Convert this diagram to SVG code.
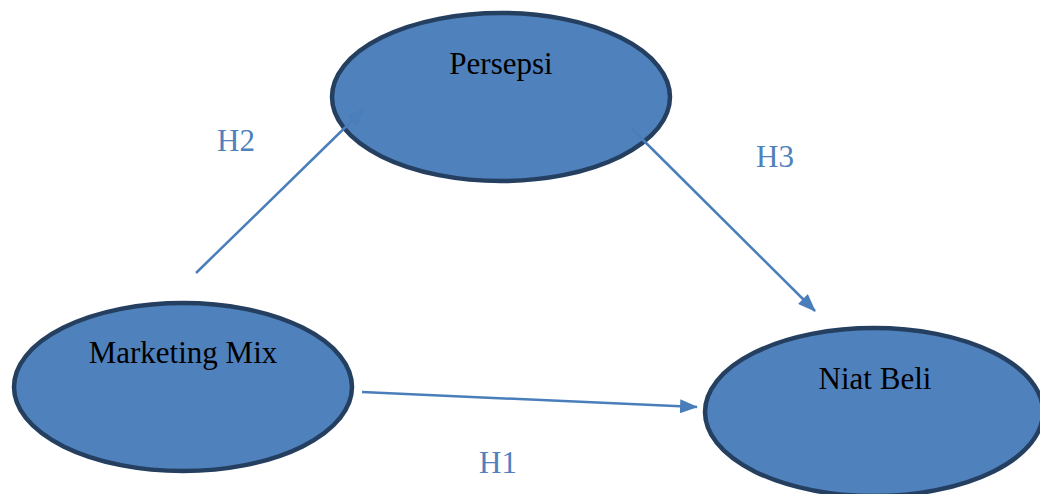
<svg xmlns="http://www.w3.org/2000/svg" width="1040" height="494" viewBox="0 0 1040 494">
<style>
.node{fill:#4f81bd;stroke:#243f60;stroke-width:4.5}
.lbl{font-family:"Liberation Serif","DejaVu Serif",serif;font-size:31px;fill:#000;text-anchor:middle}
.h{font-family:"Liberation Serif","DejaVu Serif",serif;font-size:31px;fill:#4f81bd;text-anchor:middle}
.conn{stroke:#4a7ebb;stroke-width:2.5;fill:none;marker-end:url(#ah)}
</style>
<defs>
<marker id="ah" markerUnits="userSpaceOnUse" markerWidth="18" markerHeight="14" refX="17" refY="7" orient="auto">
<path d="M0,0 L18,7 L0,14 Z" fill="#4a7ebb"/>
</marker>
</defs>
<rect width="1040" height="494" fill="#fff"/>
<g id="persepsi">
<ellipse class="node" cx="501" cy="97" rx="169" ry="84"/>
<text class="lbl" x="501" y="74">Persepsi</text>
</g>
<g id="marketing-mix">
<ellipse class="node" cx="183" cy="387" rx="169" ry="84"/>
<text class="lbl" x="183" y="363">Marketing Mix</text>
</g>
<g id="niat-beli">
<ellipse class="node" cx="874" cy="412" rx="169" ry="84"/>
<text class="lbl" x="875" y="389">Niat Beli</text>
</g>
<g id="connectors">
<line class="conn" x1="196" y1="273" x2="364" y2="109"/>
<line class="conn" x1="632" y1="129" x2="815" y2="311"/>
<line class="conn" x1="362" y1="392" x2="697" y2="407"/>
</g>
<g id="labels">
<text class="h" x="236" y="151">H2</text>
<text class="h" x="775" y="167">H3</text>
<text class="h" x="498" y="473">H1</text>
</g>
</svg>
